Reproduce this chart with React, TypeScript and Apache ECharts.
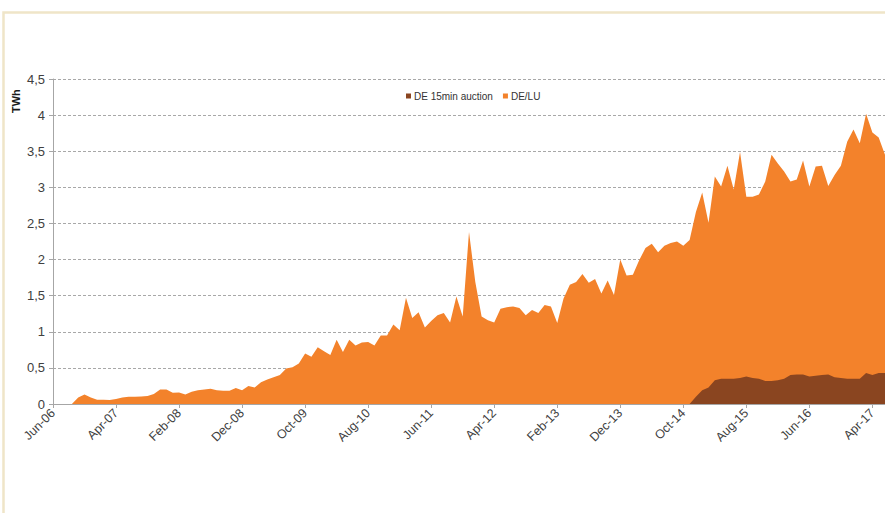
import React, { useEffect, useRef } from "react";
import * as echarts from "echarts";

const MONTHS = ["Jan", "Feb", "Mar", "Apr", "May", "Jun", "Jul", "Aug", "Sep", "Oct", "Nov", "Dec"];
const START_MONTH = 5; // Jun
const START_YEAR = 2006;
const MONTH_COUNT = 133; // Jun-06 .. Jun-17

const categories: string[] = [];
for (let k = 0; k < MONTH_COUNT; k++) {
  const m = (START_MONTH + k) % 12;
  const y = START_YEAR + Math.floor((START_MONTH + k) / 12);
  categories.push(`${MONTHS[m]}-${String(y % 100).padStart(2, "0")}`);
}

const deLu: number[] = [
  0, 0, 0, 0, 0.09, 0.13, 0.09, 0.06, 0.06, 0.055,
  0.07, 0.09, 0.1, 0.1, 0.105, 0.11, 0.14, 0.2, 0.2, 0.155,
  0.16, 0.13, 0.17, 0.19, 0.2, 0.21, 0.19, 0.185, 0.185, 0.22,
  0.19, 0.25, 0.23, 0.3, 0.34, 0.37, 0.4, 0.49, 0.51, 0.56,
  0.7, 0.655, 0.785, 0.73, 0.68, 0.89, 0.72, 0.89, 0.81, 0.85,
  0.86, 0.81, 0.95, 0.95, 1.1, 1.02, 1.47, 1.19, 1.27, 1.06,
  1.15, 1.23, 1.26, 1.13, 1.49, 1.21, 2.38, 1.69, 1.21, 1.16,
  1.13, 1.32, 1.34, 1.35, 1.33, 1.23, 1.3, 1.26, 1.37, 1.35,
  1.12, 1.46, 1.65, 1.69, 1.8, 1.68, 1.73, 1.53, 1.71, 1.51,
  2.0, 1.78, 1.79, 1.99, 2.16, 2.22, 2.1, 2.19, 2.23, 2.25,
  2.19, 2.27, 2.66, 2.93, 2.51, 3.15, 3.01, 3.3, 2.97, 3.49,
  2.87, 2.87, 2.9, 3.08, 3.45, 3.33, 3.22, 3.08, 3.11, 3.37,
  3.01, 3.29, 3.3, 3.02, 3.17, 3.3, 3.63, 3.8, 3.61, 4.02,
  3.76, 3.69, 3.45,
];

const de15min: (number | null)[] = [
  null, null, null, null, null, null, null, null, null, null,
  null, null, null, null, null, null, null, null, null, null,
  null, null, null, null, null, null, null, null, null, null,
  null, null, null, null, null, null, null, null, null, null,
  null, null, null, null, null, null, null, null, null, null,
  null, null, null, null, null, null, null, null, null, null,
  null, null, null, null, null, null, null, null, null, null,
  null, null, null, null, null, null, null, null, null, null,
  null, null, null, null, null, null, null, null, null, null,
  null, null, null, null, null, null, null, null, null, null,
  null, 0, 0.1, 0.19, 0.23, 0.33, 0.35, 0.35, 0.35, 0.36,
  0.38, 0.36, 0.35, 0.32, 0.32, 0.33, 0.35, 0.4, 0.41, 0.41,
  0.38, 0.39, 0.4, 0.41, 0.37, 0.36, 0.35, 0.35, 0.35, 0.43,
  0.4, 0.43, 0.43,
];

const Y_TICKS_STEP = 0.5;
const ORANGE = "#F3822B";
const BROWN = "#8A4520";
const FONT = "'Liberation Sans', Arial, sans-serif";

export default function App() {
  const ref = useRef<HTMLDivElement>(null);
  useEffect(() => {
    if (!ref.current) return;
    const chart = echarts.init(ref.current, null, { renderer: "svg" });
    chart.setOption({
      animation: false,
      backgroundColor: "#ffffff",
      grid: { left: 53, top: 79, height: 325, width: 834.2, containLabel: false },
      legend: {
        data: ["DE 15min auction", "DE/LU"],
        left: 401,
        top: 86,
        icon: "rect",
        itemWidth: 5,
        itemHeight: 5,
        itemGap: 10,
        textStyle: { fontSize: 10, color: "#333333", fontFamily: FONT, padding: [0, 0, 0, -2] },
      },
      xAxis: {
        type: "category",
        data: categories,
        boundaryGap: false,
        axisLine: { lineStyle: { color: "#A6A6A6", width: 1 } },
        axisTick: { interval: 9, length: 4, lineStyle: { color: "#A6A6A6" } },
        axisLabel: {
          interval: 9,
          rotate: 45,
          fontSize: 12.5,
          color: "#404040",
          fontFamily: FONT,
          margin: 7,
        },
        splitLine: { show: false },
      },
      yAxis: {
        type: "value",
        min: 0,
        max: 4.5,
        interval: Y_TICKS_STEP,
        axisLine: { show: true, lineStyle: { color: "#A6A6A6" } },
        axisTick: { show: true, length: 4, lineStyle: { color: "#A6A6A6" } },
        axisLabel: {
          fontSize: 13,
          color: "#404040",
          fontFamily: FONT,
          margin: 8,
          formatter: (v: number) => String(v).replace(".", ","),
        },
        splitLine: { show: true, lineStyle: { color: "#A8A8A8", type: [3, 2], width: 1 } },
      },
      graphic: [
        {
          type: "rect",
          shape: { x: 3.5, y: 12.5, width: 920, height: 540 },
          style: { fill: "none", stroke: "#EFE5C8", lineWidth: 2.5 },
          silent: true,
          z: 100,
        },
        {
          type: "text",
          x: 16,
          y: 113,
          rotation: Math.PI / 2,
          style: {
            text: "TWh",
            font: `bold 11px ${FONT}`,
            fill: "#1a1a1a",
            textAlign: "left",
            textVerticalAlign: "middle",
            verticalAlign: "middle",
          },
        },
      ],
      series: [
        {
          name: "DE/LU",
          type: "line",
          data: deLu,
          symbol: "none",
          lineStyle: { width: 0 },
          itemStyle: { color: ORANGE },
          areaStyle: { color: ORANGE, opacity: 1 },
          z: 2,
        },
        {
          name: "DE 15min auction",
          type: "line",
          data: de15min,
          symbol: "none",
          lineStyle: { width: 0 },
          itemStyle: { color: BROWN },
          areaStyle: { color: BROWN, opacity: 1 },
          z: 3,
        },
      ],
    });
    return () => chart.dispose();
  }, []);
  return (
    <div
      ref={ref}
      style={{ position: "fixed", left: 0, top: 0, width: 885, height: 513 }}
    />
  );
}
